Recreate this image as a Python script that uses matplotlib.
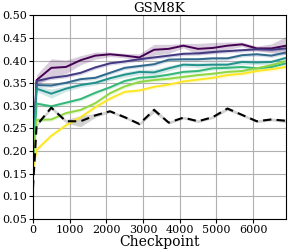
import matplotlib
matplotlib.use('Agg')
import matplotlib.pyplot as plt
import numpy as np

plt.rcParams['font.family'] = 'DejaVu Serif'
plt.rcParams['font.size'] = 8

# checkpoints
steps = [0, 100, 500, 900, 1300, 1700, 2100, 2500, 2900, 3300, 3700,
         4100, 4500, 4900, 5300, 5700, 6100, 6500, 6900]

# accuracy curves (viridis order, dark -> light)
acc_1 = [0.18, 0.357, 0.384, 0.386, 0.401, 0.411, 0.414, 0.411, 0.407, 0.424,
         0.426, 0.433, 0.426, 0.428, 0.433, 0.436, 0.427, 0.427, 0.433]
acc_2 = [0.18, 0.355, 0.362, 0.366, 0.373, 0.385, 0.394, 0.398, 0.403, 0.407,
         0.411, 0.415, 0.416, 0.419, 0.421, 0.423, 0.425, 0.424, 0.427]
acc_3 = [0.18, 0.346, 0.345, 0.351, 0.359, 0.362, 0.373, 0.384, 0.388, 0.392,
         0.402, 0.403, 0.403, 0.405, 0.405, 0.412, 0.414, 0.411, 0.418]
acc_4 = [0.18, 0.338, 0.327, 0.338, 0.346, 0.351, 0.361, 0.369, 0.375, 0.374,
         0.383, 0.391, 0.390, 0.391, 0.391, 0.397, 0.396, 0.397, 0.406]
acc_5 = [0.18, 0.305, 0.299, 0.307, 0.315, 0.329, 0.341, 0.355, 0.362, 0.364,
         0.369, 0.375, 0.377, 0.383, 0.384, 0.386, 0.383, 0.386, 0.394]
acc_6 = [0.18, 0.269, 0.270, 0.284, 0.291, 0.306, 0.328, 0.343, 0.353, 0.357,
         0.360, 0.364, 0.368, 0.371, 0.375, 0.377, 0.383, 0.390, 0.399]
acc_7 = [0.16, 0.203, 0.234, 0.257, 0.275, 0.297, 0.316, 0.331, 0.334, 0.342,
         0.347, 0.354, 0.358, 0.362, 0.368, 0.371, 0.377, 0.381, 0.386]
baseline = [0.117, 0.257, 0.296, 0.266, 0.266, 0.279, 0.288, 0.275, 0.260, 0.291,
            0.263, 0.274, 0.266, 0.275, 0.294, 0.280, 0.266, 0.270, 0.267]

# spread (half width of shaded band)
spread_1 = [0.0, 0.012, 0.02, 0.015, 0.01, 0.008, 0.005, 0.005, 0.008, 0.012,
            0.01, 0.005, 0.012, 0.012, 0.008, 0.005, 0.005, 0.01, 0.02]
spread_4 = [0.0, 0.006, 0.01, 0.006, 0.005, 0.005, 0.005, 0.006, 0.006, 0.007,
            0.006, 0.005, 0.006, 0.006, 0.005, 0.005, 0.005, 0.005, 0.005]
spread_base = [0.0, 0.003, 0.004, 0.004, 0.012, 0.004, 0.003, 0.003, 0.003, 0.006,
               0.003, 0.003, 0.003, 0.003, 0.004, 0.003, 0.003, 0.003, 0.004]
spread_small = 0.004

curves = [acc_1, acc_2, acc_3, acc_4, acc_5, acc_6, acc_7]
spreads = [spread_1, [spread_small] * len(steps), [spread_small] * len(steps), spread_4,
           [spread_small] * len(steps), [spread_small] * len(steps), [spread_small] * len(steps)]
colors = plt.cm.viridis(np.linspace(0, 1, len(curves)))

fig = plt.figure(figsize=(2.89, 2.52), dpi=100)
ax = fig.add_axes([0.114, 0.131, 0.876, 0.808])

x = np.array(steps)
for y, s, c in zip(curves, spreads, colors):
    y = np.array(y)
    s = np.array(s)
    ax.fill_between(x, y - s, y + s, color=c, alpha=0.2, linewidth=0)
    ax.plot(x, y, color=c, linewidth=1.4)

b = np.array(baseline)
sb = np.array(spread_base)
ax.fill_between(x, b - sb, b + sb, color='gray', alpha=0.35, linewidth=0)
ax.plot(x, b, color='black', linestyle='--', linewidth=1.5, dashes=(4, 2.5))

ax.set_xlim(0, 6900)
ax.set_ylim(0.05, 0.50)
ax.set_xticks(np.arange(0, 7000, 1000))
ax.set_yticks(np.arange(0.05, 0.501, 0.05))
ax.yaxis.set_major_formatter(matplotlib.ticker.FormatStrFormatter('%.2f'))
ax.tick_params(length=3, width=0.8, pad=1.5)
ax.grid(True, color='#b0b0b0', linewidth=0.8)
ax.set_axisbelow(True)

ax.set_title('GSM8K', fontsize=9.5, pad=2)
ax.set_xlabel('Checkpoint', fontsize=10, labelpad=0)

plt.savefig('out.png', dpi=100)
